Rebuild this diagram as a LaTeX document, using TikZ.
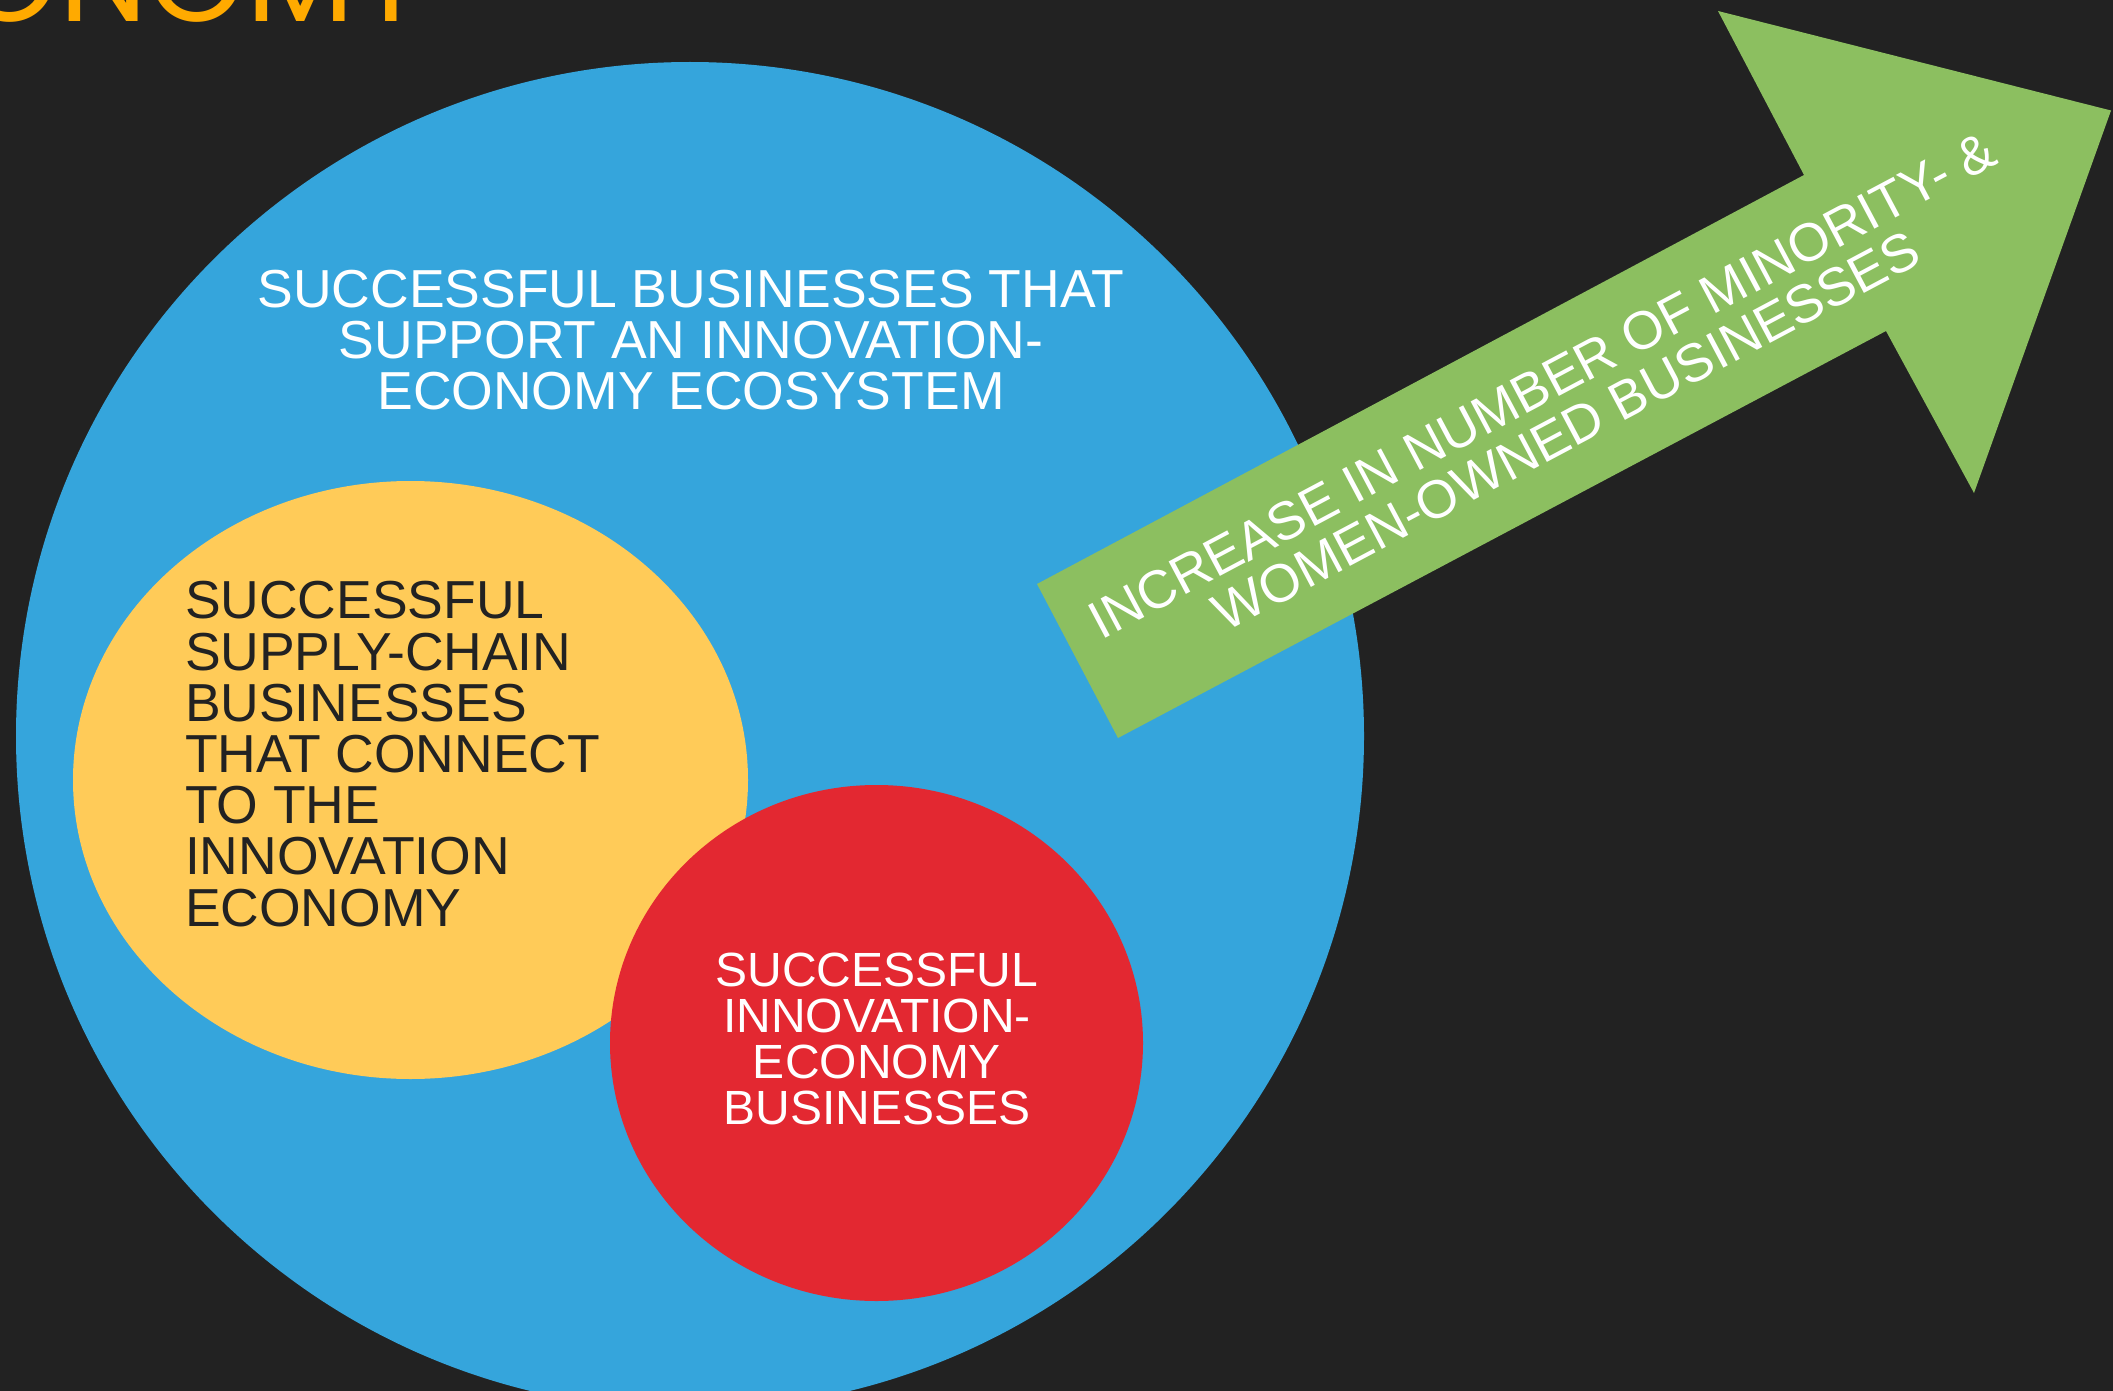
\documentclass[tikz,border=0pt]{standalone}
\usepackage{fontspec}
\setmainfont{Liberation Sans}
\newfontfamily\titlefont{Poppins}
\usetikzlibrary{shapes.geometric}
\definecolor{bg}{HTML}{222222}
\definecolor{skyblue}{HTML}{35A5DC}
\definecolor{sun}{HTML}{FFCB58}
\definecolor{crimson}{HTML}{E32831}
\definecolor{leaf}{HTML}{8CBF60}
\definecolor{amber}{HTML}{FFAA00}
\tikzset{
  blob/.style={inner sep=0pt, outer sep=0pt, draw=none},
  label/.style={inner sep=0pt, outer sep=0pt},
}
\newlength\ttlA \newlength\ttlB \newlength\ttlC
\begin{document}
\settowidth\ttlA{\titlefont\fontsize{100}{100}\selectfont ECO}%
\settowidth\ttlB{\titlefont\fontsize{100}{100}\selectfont NOM}%
\settowidth\ttlC{\titlefont\fontsize{100}{100}\selectfont Y}%
\begin{tikzpicture}[x=1pt,y=-1pt]
\pgfmathsetmacro\tsize{332/(\ttlB+0.5*\ttlC)*100}
\pgfmathsetmacro\tx{67-\ttlA/100*\tsize-0.06*\tsize}
\useasboundingbox (0,0) rectangle (2113,1391);
\fill[bg] (0,0) rectangle (2113,1391);
\node[label, anchor=base west, text=amber, font=\titlefont\fontsize{\tsize}{\tsize}\selectfont] (title) at (\tx,22) {ECONOMY};
\node[blob, circle, fill=skyblue, minimum size=1348pt] (eco) at (690,736) {};
\node[blob, ellipse, fill=sun, minimum width=675pt, minimum height=598pt] (supply) at (410.5,780) {};
\node[blob, ellipse, fill=crimson, minimum width=533pt, minimum height=516pt] (core) at (876.5,1043) {};
\fill[leaf] (1037,584) -- (1804,175) -- (1718,11) -- (2111,110.5) -- (1974,493) -- (1886,331) -- (1118,738) -- cycle;
\node[label, anchor=base, align=center, text=white, font=\fontsize{53.5}{51}\selectfont] (ecotext) at (691,409) {SUCCESSFUL BUSINESSES THAT\\SUPPORT AN INNOVATION-\\ECONOMY ECOSYSTEM};
\node[label, anchor=base west, align=left, text=bg, font=\fontsize{53.5}{51.2}\selectfont] (supplytext) at (185,926) {SUCCESSFUL\\SUPPLY-CHAIN\\BUSINESSES\\THAT CONNECT\\TO THE\\INNOVATION\\ECONOMY};
\node[label, anchor=base, align=center, text=white, font=\fontsize{48}{45.7}\selectfont] (coretext) at (877,1124) {SUCCESSFUL\\INNOVATION-\\ECONOMY\\BUSINESSES};
\node[label, anchor=center, align=center, rotate=28, text=white, font=\fontsize{53.5}{52}\selectfont] (arrowtext) at (1554,408) {INCREASE IN NUMBER OF MINORITY- \&\\WOMEN-OWNED BUSINESSES};
\end{tikzpicture}
\end{document}
